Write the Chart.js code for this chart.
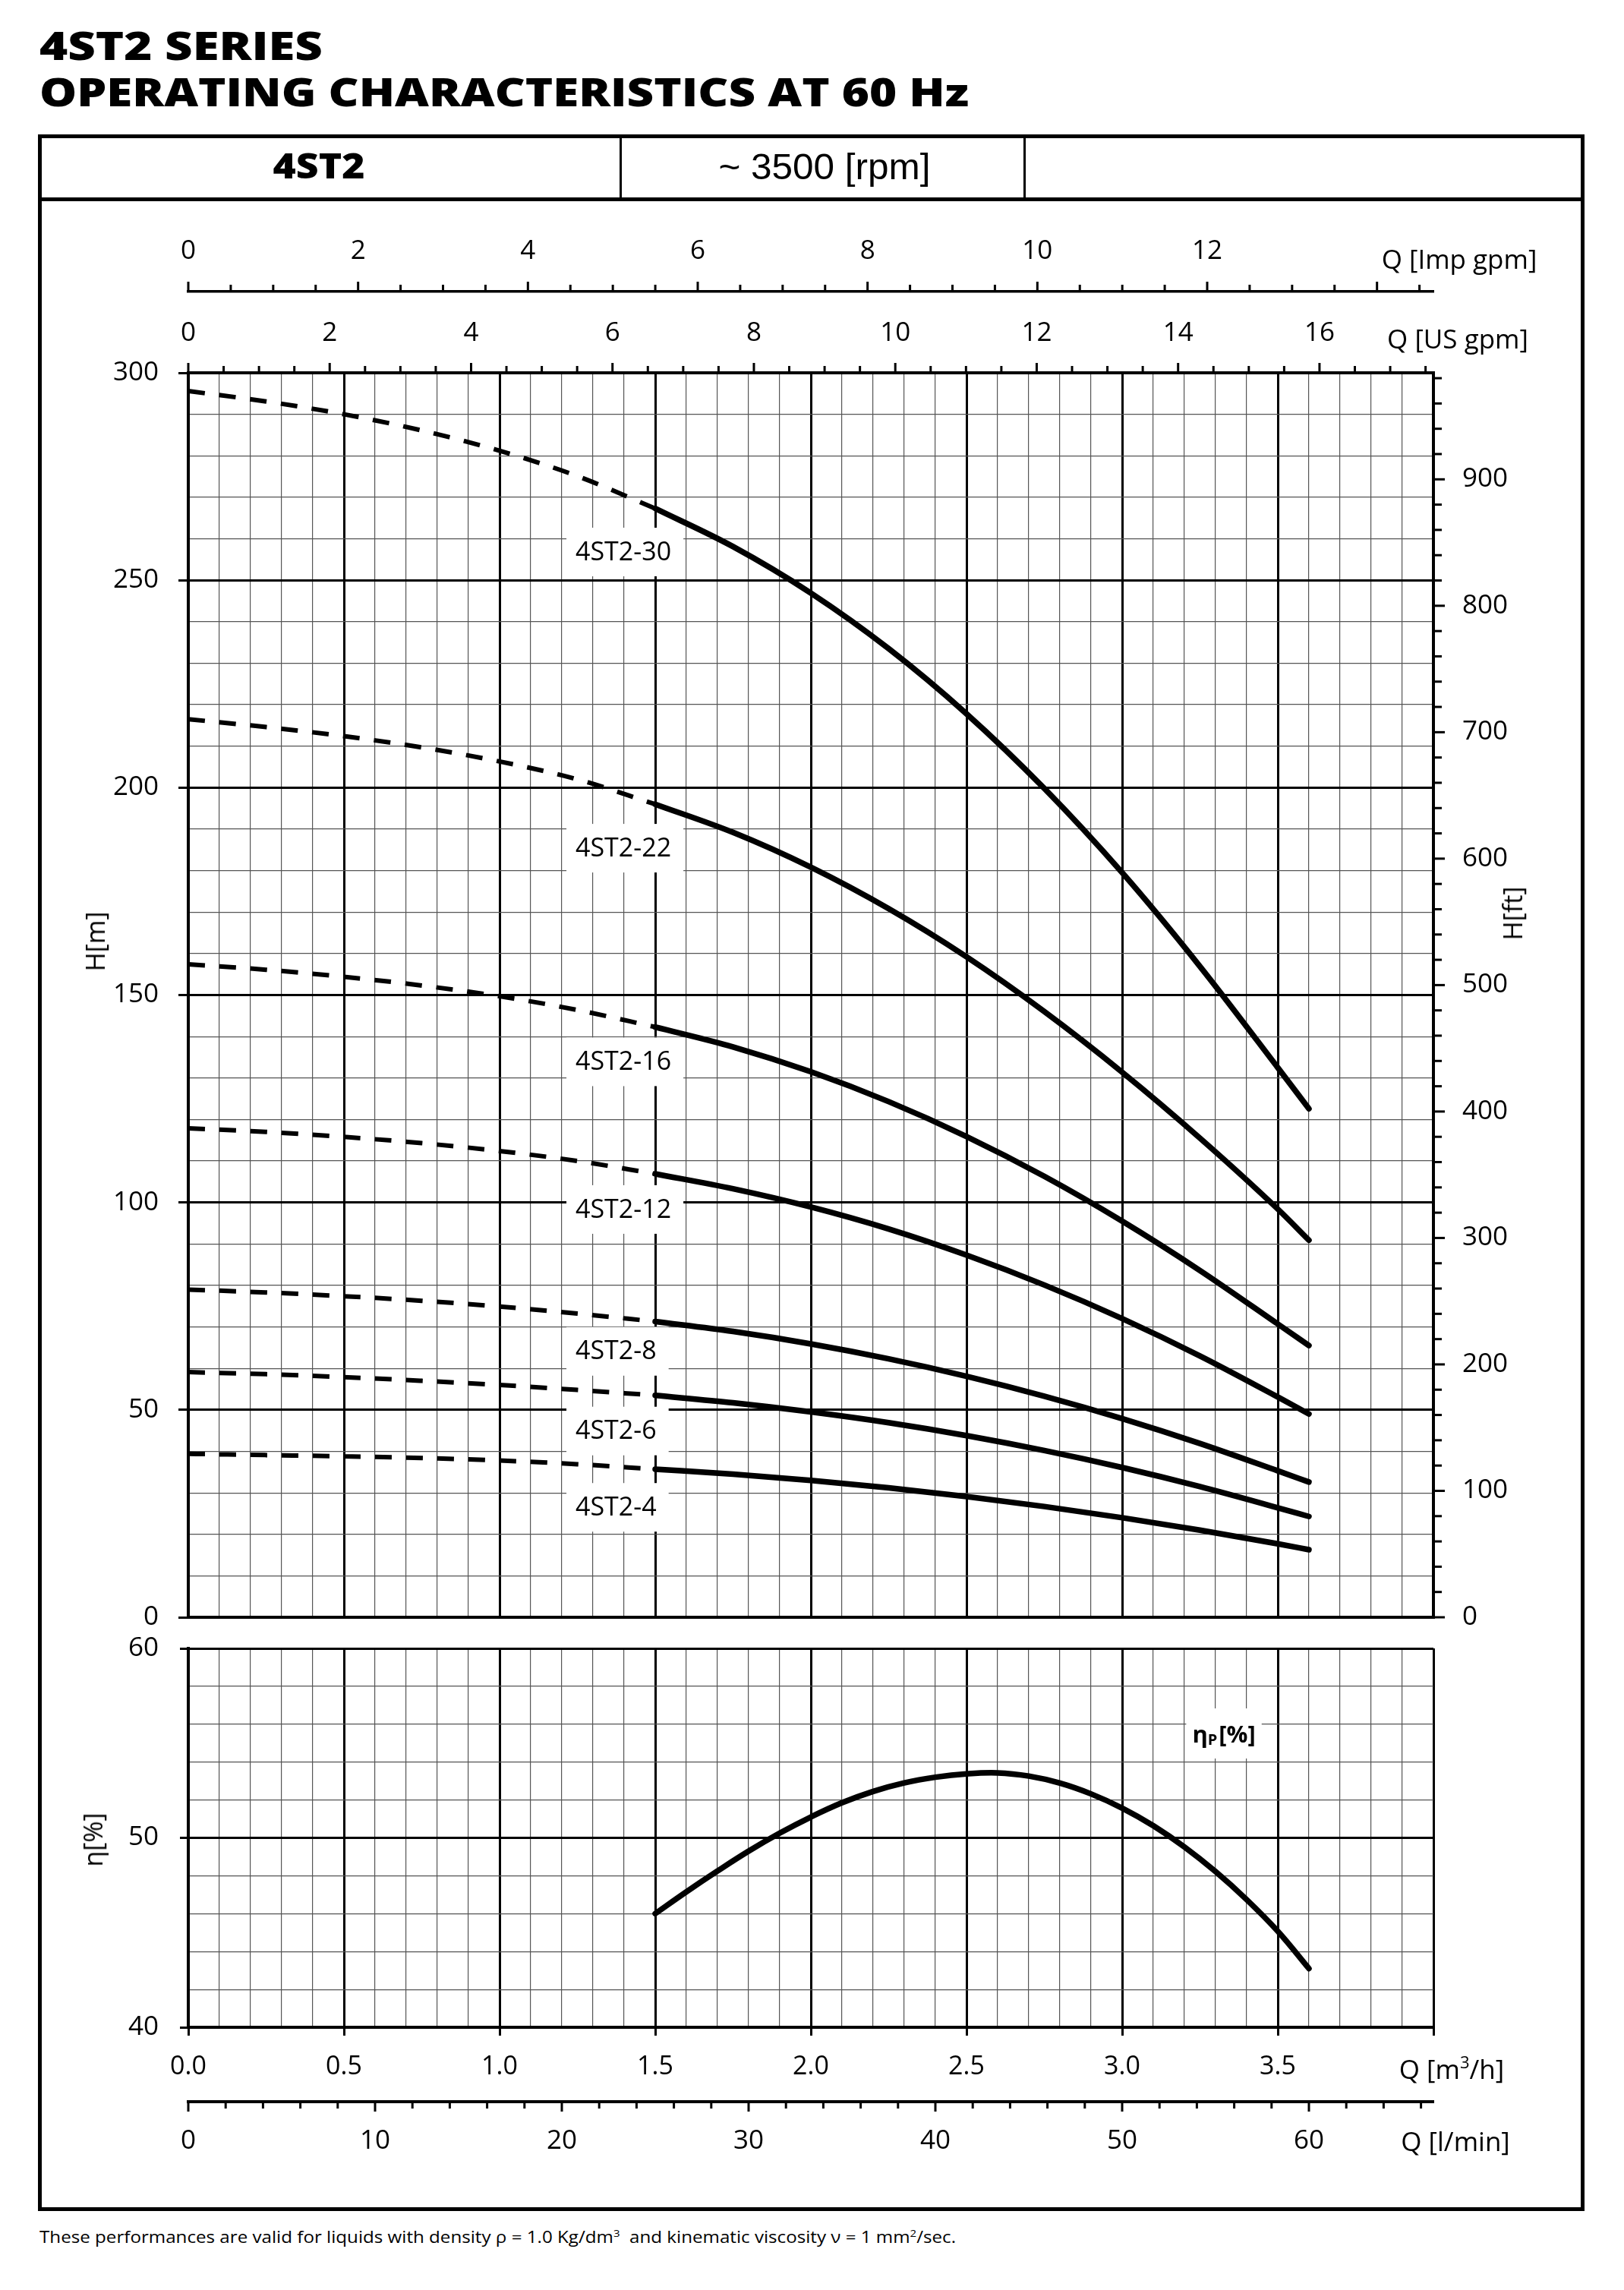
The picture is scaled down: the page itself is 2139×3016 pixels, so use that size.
<!DOCTYPE html>
<html><head><meta charset="utf-8">
<script src="https://cdn.jsdelivr.net/npm/chart.js@4.4.1/dist/chart.umd.min.js"></script>
<style>
html,body{margin:0;padding:0;background:#fff;}
#page{position:relative;width:2139px;height:3016px;overflow:hidden;background:#fff;font-family:'Open Sans',sans-serif;color:#000;}
.t{position:absolute;white-space:nowrap;line-height:1;}
.c{transform:translate(-50%,-50%);transform-origin:center center;}
.l{transform:translate(0,-50%);transform-origin:left center;}
.rot{transform:translate(-50%,-50%) rotate(-90deg);}
.box{position:absolute;background:#000;}
canvas{position:absolute;left:0;}
</style></head><body><div id="page">

<div class="t l" style="left:52px;top:58.5px;font-size:52px;font-weight:800;" data-w="373" data-base="translate(0,-50%)">4ST2 SERIES</div>
<div class="t l" style="left:52px;top:120px;font-size:52px;font-weight:800;" data-w="1224" data-base="translate(0,-50%)">OPERATING CHARACTERISTICS AT 60 Hz</div>

<div style="position:absolute;left:50px;top:177px;width:2037px;height:2735px;border:5px solid #000;box-sizing:border-box;"></div>
<div class="box" style="left:50px;top:260px;width:2037px;height:5px;"></div>
<div class="box" style="left:815.5px;top:182px;width:3px;height:78px;"></div>
<div class="box" style="left:1347.5px;top:182px;width:3px;height:78px;"></div>
<div class="t c" style="left:420px;top:217px;font-size:46px;font-weight:800;" data-w="121" data-base="translate(-50%,-50%)">4ST2</div>
<div class="t c" style="left:1086px;top:220px;font-size:48px;font-family:'Liberation Sans',Arial,sans-serif;" data-w="279" data-base="translate(-50%,-50%)">~ 3500 [rpm]</div>

<canvas id="cH" width="2139" height="2200" style="top:0px;width:2139px;height:2200px;"></canvas>
<canvas id="cE" width="2139" height="779" style="top:2121px;width:2139px;height:779px;"></canvas>

<div class="t c" style="left:1922px;top:340px;font-size:35px;">Q [Imp gpm]</div>
<div class="t c" style="left:1920px;top:445px;font-size:35px;">Q [US gpm]</div>
<div class="t c" style="left:1912px;top:2724px;font-size:35px;">Q [m<sup style="font-size:22px;vertical-align:14px;line-height:0;">3</sup>/h]</div>
<div class="t c" style="left:1917px;top:2819px;font-size:35px;">Q [l/min]</div>
<div class="t rot" style="left:125px;top:1240px;font-size:34px;">H[m]</div>
<div class="t rot" style="left:1992px;top:1203px;font-size:34px;">H[ft]</div>
<div class="t rot" style="left:122px;top:2423px;font-size:34px;">η[%]</div>

<div class="t l" style="left:52px;top:2946px;font-size:21px;" data-w="1207" data-base="translate(0,-50%)">These performances are valid for liquids with density ρ = 1.0 Kg/dm<sup style="font-size:13px;vertical-align:8px;line-height:0;">3</sup>&nbsp; and kinematic viscosity ν = 1 mm<sup style="font-size:13px;vertical-align:8px;line-height:0;">2</sup>/sec.</div>

</div>
<script>
// ---------- data ----------
const qMax = 4.0;          // m3/h axis end
const hMax = 300;          // m axis end
const etaMin = 40, etaMax = 60;
const US_GPM = 4.402868, IMP_GPM = 3.666154, FT = 3.28084, LPM = 1000/60;

const qDashed = [0, 0.25, 0.5, 0.75, 1.0, 1.25, 1.5];
const qSolid  = [1.5, 1.75, 2.0, 2.25, 2.5, 2.75, 3.0, 3.25, 3.5, 3.6];

const models = ['4ST2-30','4ST2-22','4ST2-16','4ST2-12','4ST2-8','4ST2-6','4ST2-4'];
const h30Dashed = [295.6, 293.1, 290.0, 286.1, 281.2, 275.1, 267.3];
const h30Solid  = [267.3, 258.1, 246.9, 233.5, 217.8, 199.8, 179.5, 156.9, 132.5, 122.6];
const h22Dashed = [216.5, 214.6, 212.4, 209.7, 206.3, 202.0, 196.0];
const h22Solid  = [196.0, 189.2, 180.8, 170.8, 159.2, 146.0, 131.4, 115.5, 98.4, 90.9];
const h16Dashed = [157.4, 156.1, 154.4, 152.3, 149.7, 146.4, 142.3];
const h16Solid  = [142.3, 137.5, 131.5, 124.3, 115.9, 106.3, 95.5, 83.6, 70.7, 65.5];
const h12Dashed = [117.9, 117.0, 115.8, 114.3, 112.4, 110.0, 106.9];
const h12Solid  = [106.9, 103.3, 98.9, 93.6, 87.3, 80.1, 72.0, 63.0, 53.1, 49.0];
const h8Dashed  = [79.0, 78.3, 77.4, 76.3, 74.9, 73.2, 71.3];
const h8Solid   = [71.3, 68.9, 65.9, 62.3, 58.1, 53.3, 47.9, 41.9, 35.3, 32.6];
const h6Dashed  = [59.1, 58.6, 57.9, 57.0, 56.0, 54.8, 53.5];
const h6Solid   = [53.5, 51.7, 49.5, 46.9, 43.8, 40.2, 36.1, 31.5, 26.4, 24.3];
const h4Dashed  = [39.4, 39.1, 38.8, 38.4, 37.8, 36.9, 35.7];
const h4Solid   = [35.7, 34.5, 33.0, 31.2, 29.1, 26.7, 24.0, 21.0, 17.7, 16.3];

const qEff   = [1.5, 1.6, 1.7, 1.8, 1.9, 2.0, 2.1, 2.2, 2.3, 2.4, 2.5, 2.6, 2.7, 2.8, 2.9, 3.0, 3.1, 3.2, 3.3, 3.4, 3.5, 3.6];
const etaEff = [46.0, 47.15, 48.25, 49.3, 50.25, 51.1, 51.85, 52.45, 52.9, 53.2, 53.38, 53.43, 53.26, 52.89, 52.32, 51.57, 50.64, 49.52, 48.22, 46.74, 45.07, 43.1];

// label anchors (data units: left edge q, centre h)
const labelQ = [1.244, 1.244, 1.244, 1.244, 1.244, 1.244, 1.244];
const labelH = [256.8, 185.4, 133.9, 98.3, 64.1, 44.9, 26.5];
const etaLabel = {q: 3.327, eta: 55.47};

const dashedSets = [h30Dashed, h22Dashed, h16Dashed, h12Dashed, h8Dashed, h6Dashed, h4Dashed];
const solidSets  = [h30Solid, h22Solid, h16Solid, h12Solid, h8Solid, h6Solid, h4Solid];

// ---------- helpers ----------
const isMaj = (v, step) => Math.abs(v/step - Math.round(v/step)) < 1e-6;
const FONT = "'Open Sans', sans-serif";
Chart.defaults.font.family = FONT;
Chart.defaults.color = '#000';

function lineDs(q, h, dashed, label, smoothMode){
  const ds = {
    label: label,
    data: q.map((x, i) => ({x: x, y: h[i]})),
    borderColor: '#000',
    borderWidth: dashed ? 6 : 7.5,
    borderDash: dashed ? [22, 19] : [],
    borderCapStyle: dashed ? 'butt' : 'round',
    borderJoinStyle: 'round',
    pointRadius: 0, pointHoverRadius: 0, fill: false
  };
  if (smoothMode === 'tension') { ds.cubicInterpolationMode = 'default'; ds.tension = 0.4; }
  else { ds.cubicInterpolationMode = 'monotone'; }
  return ds;
}

const tickMarks = {
  id: 'tickMarks',
  afterDraw(chart, args, opts){
    const ctx = chart.ctx;
    (opts.axes || []).forEach(a => {
      const s = chart.scales[a.id];
      ctx.save();
      ctx.strokeStyle = '#000'; ctx.lineWidth = a.width; ctx.lineCap = 'butt';
      s.ticks.forEach(t => {
        const len = isMaj(t.value, a.major) ? a.majorLen : a.minorLen;
        const p = s.getPixelForValue(t.value);
        ctx.beginPath();
        if (a.side === 'top'){ ctx.moveTo(p, s.bottom); ctx.lineTo(p, s.bottom - len); }
        else if (a.side === 'bottom'){ ctx.moveTo(p, s.top); ctx.lineTo(p, s.top + len); }
        else { ctx.moveTo(s.left, p); ctx.lineTo(s.left + len, p); }
        ctx.stroke();
      });
      ctx.restore();
    });
  }
};

const curveLabels = {
  id: 'curveLabels',
  beforeDatasetsDraw(chart){
    const ctx = chart.ctx, xs = chart.scales.x, ys = chart.scales.y;
    ctx.save();
    ctx.font = "34px " + FONT; ctx.textBaseline = 'middle'; ctx.textAlign = 'left';
    models.forEach((m, i) => {
      const x = xs.getPixelForValue(labelQ[i]), y = ys.getPixelForValue(labelH[i]);
      const w = ctx.measureText(m).width;
      ctx.fillStyle = '#fff'; ctx.fillRect(x - 12, y - 32, w + 28, 64);
      ctx.fillStyle = '#000'; ctx.fillText(m, x, y + 1);
    });
    ctx.restore();
  }
};

const etaLabelPlugin = {
  id: 'etaLabel',
  beforeDatasetsDraw(chart){
    const ctx = chart.ctx, xs = chart.scales.x, ys = chart.scales.y;
    const cx = xs.getPixelForValue(etaLabel.q), cy = ys.getPixelForValue(etaLabel.eta);
    ctx.save();
    ctx.textBaseline = 'alphabetic'; ctx.textAlign = 'left';
    const big = "bold 31px " + FONT, small = "bold 20px " + FONT;
    ctx.font = big; const w1 = ctx.measureText('η').width, w3 = ctx.measureText('[%]').width;
    ctx.font = small; const w2 = ctx.measureText('P').width;
    const tw = w1 + w2 + 2 + w3;
    ctx.fillStyle = '#fff'; ctx.fillRect(cx - tw/2 - 8, cy - 34, tw + 16, 66);
    ctx.fillStyle = '#000';
    let x = cx - tw/2; const base = cy + 11;
    ctx.font = big; ctx.fillText('η', x, base); x += w1;
    ctx.font = small; ctx.fillText('P', x, base + 3); x += w2 + 2;
    ctx.font = big; ctx.fillText('[%]', x, base);
    ctx.restore();
  }
};

function gridMajor(step){
  return {
    color: c => (c.tick && isMaj(c.tick.value, step)) ? '#000' : '#555',
    lineWidth: c => (c.tick && isMaj(c.tick.value, step)) ? 3 : 1.2
  };
}
const tickFont = {size: 35};

// ---------- head chart ----------
const dsH = [];
models.forEach((m, i) => {
  dsH.push(lineDs(qDashed, dashedSets[i], true, m + ' (extrapolated)'));
  dsH.push(lineDs(qSolid, solidSets[i], false, m));
});

new Chart(document.getElementById('cH'), {
  type: 'line',
  data: {datasets: dsH},
  plugins: [tickMarks, curveLabels],
  options: {
    responsive: false, maintainAspectRatio: false, animation: false,
    events: [],
    layout: {padding: {left: 98, right: 101, top: 279, bottom: 62}},
    plugins: {
      legend: {display: false}, tooltip: {enabled: false},
      tickMarks: {axes: [
        {id: 'x2', side: 'top', major: 2, majorLen: 13, minorLen: 9, width: 3},
        {id: 'x3', side: 'top', major: 2, majorLen: 13, minorLen: 9, width: 3},
        {id: 'y2', side: 'right', major: 100, majorLen: 15, minorLen: 11, width: 3}
      ]}
    },
    scales: {
      x: {
        type: 'linear', position: 'bottom', min: 0, max: qMax,
        ticks: {stepSize: 0.1, display: false, autoSkip: false},
        grid: Object.assign({drawTicks: false}, gridMajor(0.5)),
        border: {display: true, width: 4, color: '#000'},
        afterFit: s => { s.height = 8; }
      },
      x2: {
        type: 'linear', position: 'top', weight: 0, min: 0, max: qMax * US_GPM,
        ticks: {stepSize: 0.5, autoSkip: false, maxRotation: 0, minRotation: 0, includeBounds: false,
                padding: 31, font: tickFont, color: '#000',
                callback: v => isMaj(v, 2) ? String(Math.round(v)) : ''},
        grid: {display: true, drawOnChartArea: false, drawTicks: false},
        border: {display: true, width: 4, color: '#000'},
        afterFit: s => { s.height = 107; }
      },
      x3: {
        type: 'linear', position: 'top', weight: 1, min: 0, max: qMax * IMP_GPM,
        ticks: {stepSize: 0.5, autoSkip: false, maxRotation: 0, minRotation: 0, includeBounds: false,
                padding: 32, font: tickFont, color: '#000',
                callback: v => (isMaj(v, 2) && v < 13) ? String(Math.round(v)) : ''},
        grid: {display: true, drawOnChartArea: false, drawTicks: false},
        border: {display: true, width: 3.5, color: '#000'},
        afterFit: s => { s.height = 105; }
      },
      y: {
        type: 'linear', position: 'left', min: 0, max: hMax,
        ticks: {stepSize: 10, autoSkip: false, padding: 26, font: tickFont, color: '#000',
                callback: v => isMaj(v, 50) ? String(v) : ''},
        grid: Object.assign({drawTicks: true, tickLength: 13, tickWidth: 3,
                tickColor: c => (c.tick && isMaj(c.tick.value, 50)) ? '#000' : 'rgba(0,0,0,0)'}, gridMajor(50)),
        border: {display: true, width: 4, color: '#000'},
        afterFit: s => { s.width = 150; }
      },
      y2: {
        type: 'linear', position: 'right', min: 0, max: hMax * FT,
        ticks: {stepSize: 20, autoSkip: false, includeBounds: false, padding: 38, font: tickFont, color: '#000',
                callback: v => isMaj(v, 100) ? String(v) : ''},
        grid: {display: true, drawOnChartArea: false, drawTicks: false},
        border: {display: true, width: 4, color: '#000'},
        afterFit: s => { s.width = 150; }
      }
    }
  }
});

// ---------- efficiency chart ----------
new Chart(document.getElementById('cE'), {
  type: 'line',
  data: {datasets: [lineDs(qEff, etaEff, false, 'ηP[%]', 'tension')]},
  plugins: [tickMarks, etaLabelPlugin],
  options: {
    responsive: false, maintainAspectRatio: false, animation: false,
    events: [],
    layout: {padding: {left: 98, right: 251, top: 50, bottom: 40}},
    plugins: {
      legend: {display: false}, tooltip: {enabled: false},
      tickMarks: {axes: [
        {id: 'x4', side: 'bottom', major: 10, majorLen: 13, minorLen: 9, width: 3}
      ]}
    },
    scales: {
      x: {
        type: 'linear', position: 'bottom', weight: 0, min: 0, max: qMax,
        ticks: {stepSize: 0.1, autoSkip: false, maxRotation: 0, minRotation: 0, padding: 21,
                font: {size: 34}, color: '#000',
                callback: v => (isMaj(v, 0.5) && v < qMax - 1e-6) ? v.toFixed(1) : ''},
        grid: Object.assign({drawTicks: true, tickLength: 11, tickWidth: 3,
                tickColor: c => (c.tick && isMaj(c.tick.value, 0.5)) ? '#000' : 'rgba(0,0,0,0)'}, gridMajor(0.5)),
        border: {display: true, width: 4, color: '#000'},
        afterFit: s => { s.height = 98; }
      },
      x4: {
        type: 'linear', position: 'bottom', weight: 1, min: 0, max: qMax * LPM,
        ticks: {stepSize: 2, autoSkip: false, maxRotation: 0, minRotation: 0, includeBounds: false,
                padding: 31, font: tickFont, color: '#000',
                callback: v => isMaj(v, 10) ? String(Math.round(v)) : ''},
        grid: {display: true, drawOnChartArea: false, drawTicks: false},
        border: {display: true, width: 4, color: '#000'},
        afterFit: s => { s.height = 92; }
      },
      y: {
        type: 'linear', position: 'left', min: etaMin, max: etaMax,
        ticks: {stepSize: 2, autoSkip: false, padding: 28, font: tickFont, color: '#000',
                callback: v => isMaj(v, 10) ? String(v) : ''},
        grid: Object.assign({drawTicks: true, tickLength: 11, tickWidth: 3,
                tickColor: c => (c.tick && isMaj(c.tick.value, 10)) ? '#000' : 'rgba(0,0,0,0)'}, gridMajor(10)),
        border: {display: true, width: 4, color: '#000'},
        afterFit: s => { s.width = 150; }
      }
    }
  }
});

// ---------- fit header/footer text widths ----------
function fitText(){
  document.querySelectorAll('[data-w]').forEach(el => {
    const base = el.dataset.base || '';
    el.style.transform = base;
    const w = el.getBoundingClientRect().width;
    if (w > 0) el.style.transform = base + ' scaleX(' + (parseFloat(el.dataset.w) / w) + ')';
  });
}
fitText();
if (document.fonts && document.fonts.ready) document.fonts.ready.then(fitText);
</script>
</body></html>
